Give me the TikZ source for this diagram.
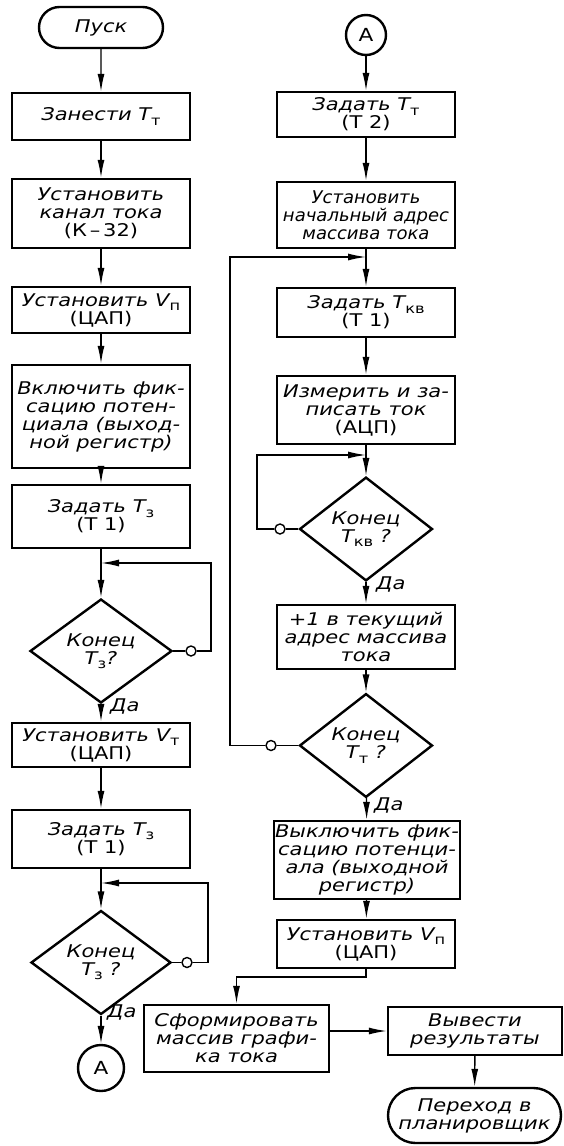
\documentclass[tikz,border=0pt]{standalone}
\usepackage{fontspec}
\newfontfamily\gost{DejaVu Sans}[FakeStretch=1.2]
\newfontfamily\gostn{DejaVu Sans}[FakeStretch=1.03]
\usetikzlibrary{shapes.geometric,shapes.misc,arrows.meta}
\newcommand{\lo}[1]{\raisebox{-0.45ex}{\fontsize{13.5}{13.5}\selectfont\upshape #1}}

\begin{document}
\begin{tikzpicture}[x=1pt,y=-1pt,
  every node/.style={font=\gost\itshape\fontsize{17.5}{18}\selectfont, align=center, inner sep=1pt},
  box/.style={draw, rectangle, line width=2.4pt, minimum width=178, minimum height=#1},
  dec/.style={draw, diamond, line width=2.4pt, inner sep=0pt},
  term/.style={draw, rounded rectangle, line width=2.4pt},
  con/.style={draw, circle, line width=2.4pt, minimum size=#1, inner sep=0pt, font=\gost\fontsize{18}{18}\selectfont},
  ring/.style={draw, circle, fill=white, line width=1.4pt, minimum size=10, inner sep=0pt},
  yeslbl/.style={inner sep=0pt, anchor=west},
  line/.style={line width=1.4pt},
  arr/.style={line width=1.4pt, -{Latex[length=18pt,width=7pt]}}]
\useasboundingbox (0,0) rectangle (563,1146);

% left column
\node[term, minimum width=126, minimum height=41] (start) at (101,27.5) {Пуск};
\node[box=47] (zan) at (101,116.5) {Занести T\lo{т}};
\node[box=69] (kan) at (101,213.5) {Установить\\канал тока\\{\upshape(К\,–\,32)}};
\node[box=46] (vp) at (101,310) {Установить V\lo{п}\\{\upshape(ЦАП)}};
\node[box=103] (fix) at (101,416.5) {Включить фик-\\сацию потен-\\циала (выход-\\ной регистр)};
\node[box=63] (tz1) at (101,516.5) {Задать T\lo{з}\\{\upshape(Т 1)}};
\coordinate (j1) at (101,563);
\node[dec, minimum width=142, minimum height=82] (end1) at (101,651) {Конец\\T\lo{з}?};
\node[ring] (n1) at (191,651) {};
\coordinate (r1) at (211,651);
\node[yeslbl] (y1) at (110,706) {Да};
\node[box=44] (vt) at (101,745) {Установить V\lo{т}\\{\upshape(ЦАП)}};
\node[box=58] (tz2) at (101,839) {Задать T\lo{з}\\{\upshape(Т 1)}};
\coordinate (j2) at (101,883);
\node[dec, minimum width=140, minimum height=76] (end2) at (101,962.5) {Конец\\T\lo{з} ?};
\node[ring] (n2) at (187,962.5) {};
\coordinate (r2) at (208,962.5);
\node[yeslbl] (y2) at (107,1012) {Да};
\node[con=46] (a1) at (101,1068) {А};

% right column
\node[con=40] (a2) at (366,35) {А};
\node[box=45] (tt) at (366,114.5) {Задать T\lo{т}\\{\upshape(Т 2)}};
\node[box=66, font=\gostn\itshape\fontsize{17.5}{18}\selectfont] (adr) at (366,215) {Установить\\начальный адрес\\массива тока};
\coordinate (j3) at (366,257);
\node[box=49] (tkv) at (366,312.5) {Задать T\lo{кв}\\{\upshape(Т 1)}};
\node[box=68] (izm) at (366,410) {Измерить и за-\\писать ток\\{\upshape(АЦП)}};
\coordinate (j4) at (366,455);
\node[dec, minimum width=133, minimum height=78] (end3) at (366,529) {Конец\\T\lo{кв} ?};
\node[ring] (n3) at (280,529) {};
\coordinate (r3) at (257,529);
\node[yeslbl] (y3) at (376,584) {Да};
\node[box=64] (inc) at (366,637) {+1 в текущий\\адрес массива\\тока};
\node[dec, minimum width=133, minimum height=79] (end4) at (366,745.5) {Конец\\T\lo{т} ?};
\node[ring] (n4) at (271,745.5) {};
\coordinate (r4) at (230,745.5);
\node[yeslbl] (y4) at (374,805) {Да};
\node[box=78] (off) at (367,860) {Выключить фик-\\сацию потенци-\\ала (выходной\\регистр)};
\node[box=48] (vp2) at (366,944) {Установить V\lo{п}\\{\upshape(ЦАП)}};
\coordinate (k1) at (366,977);
\node[box=67, minimum width=185] (form) at (236.5,1038.5) {Сформировать\\массив графи-\\ка тока};
\node[box=48, minimum width=174] (out) at (475,1031) {Вывести\\результаты};
\node[term, minimum width=175, minimum height=55] (fin) at (474.5,1115.5) {Переход в\\планировщик};

\draw[arr] (start) -- (zan);
\draw[arr] (zan) -- (kan);
\draw[arr] (kan) -- (vp);
\draw[arr] (vp) -- (fix);
\draw[arr] (fix) -- (tz1);
\draw[arr] (tz1) -- (end1);
\draw[line] (end1) -- (n1);
\draw[arr] (n1) -- (r1) |- (j1);
\draw[arr] (end1) -- (vt);
\draw[arr] (vt) -- (tz2);
\draw[arr] (tz2) -- (end2);
\draw[line] (end2) -- (n2);
\draw[arr] (n2) -- (r2) |- (j2);
\draw[arr] (end2) -- (a1);

\draw[arr] (a2) -- (tt);
\draw[arr] (tt) -- (adr);
\draw[arr] (adr) -- (tkv);
\draw[arr] (tkv) -- (izm);
\draw[arr] (izm) -- (end3);
\draw[line] (end3) -- (n3);
\draw[arr] (n3) -- (r3) |- (j4);
\draw[arr] (end3) -- (inc);
\draw[arr] (inc) -- (end4);
\draw[line] (end4) -- (n4);
\draw[arr] (n4) -- (r4) |- (j3);
\draw[arr] (end4) -- (off);
\draw[arr] (off) -- (vp2);
\draw[arr] (vp2) -- (k1) -| (form);
\draw[arr] (form.east |- out) -- (out);
\draw[arr] (out) -- (fin);
\end{tikzpicture}
\end{document}
